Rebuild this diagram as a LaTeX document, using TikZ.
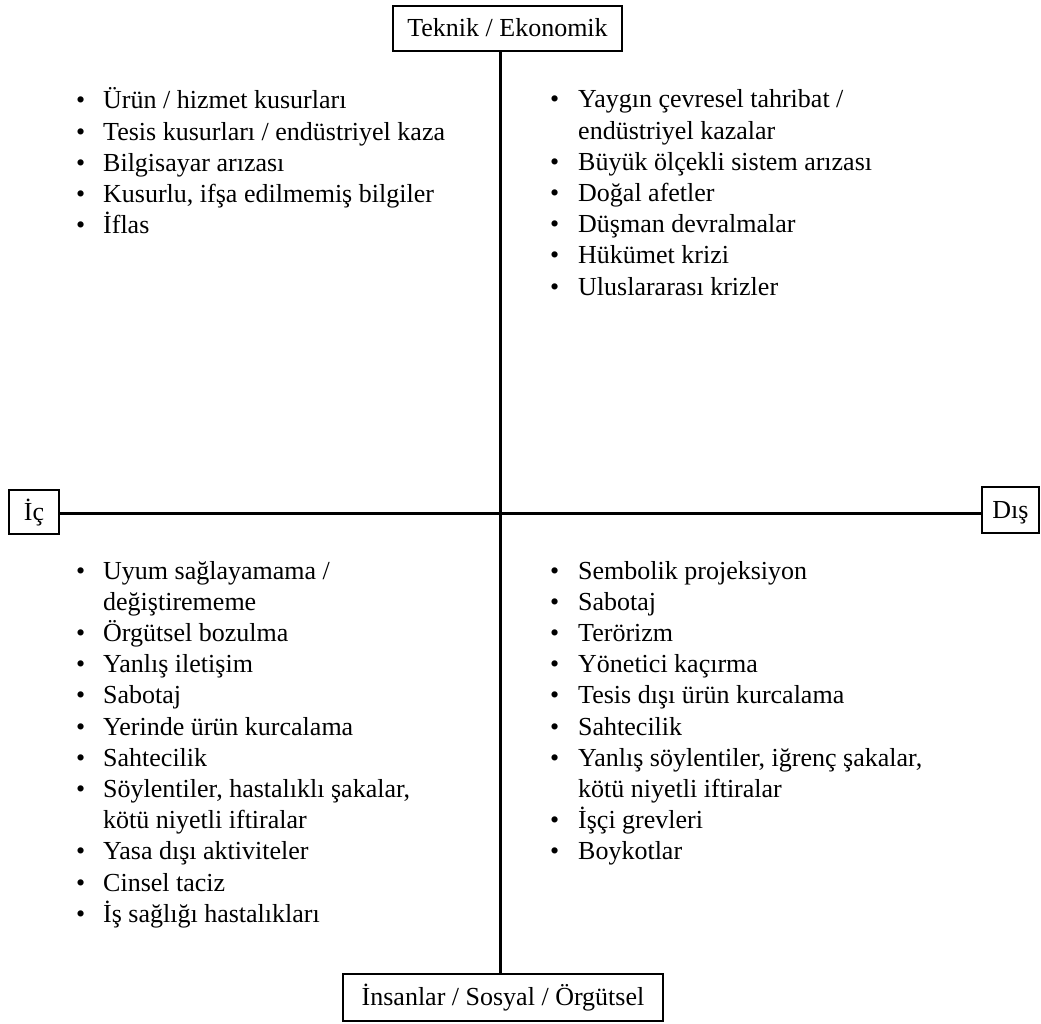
\documentclass[tikz,border=0pt]{standalone}
\usepackage{fontspec}
\setmainfont{Liberation Serif}
\newcommand{\bl}{\textbullet}
\begin{document}
\begin{tikzpicture}[x=1pt,y=-1pt,
  box/.style={draw, line width=2pt, inner sep=0pt, text height=20pt, text depth=4pt, font=\fontsize{26}{31}\selectfont},
  axisline/.style={line width=3pt},
  listnode/.style={anchor=base west, inner sep=0pt, font=\fontsize{26}{31.2}\selectfont}]
\useasboundingbox (0,0) rectangle (1041,1024);
\node[box, minimum width=229pt, minimum height=45pt] (tek) at (507.5,28.5) {Teknik / Ekonomik};
\node[box, minimum width=320pt, minimum height=47pt] (ins) at (503,997.5) {İnsanlar / Sosyal / Örgütsel};
\node[box, minimum width=50pt, minimum height=44pt] (ic) at (34,512) {İç};
\node[box, minimum width=57pt, minimum height=46pt] (dis) at (1010.5,510) {Dış};
\coordinate (c) at (500.5,513.5);
\draw[axisline] (tek.south -| c) -- (ins.north -| c);
\draw[axisline] (ic.east |- c) -- (dis.west |- c);

\node[listnode] (tl) at (76,109) {\begin{tabular}[t]{@{}p{27pt}@{}l@{}}
\bl & Ürün / hizmet kusurları\\
\bl & Tesis kusurları / endüstriyel kaza\\
\bl & Bilgisayar arızası\\
\bl & Kusurlu, ifşa edilmemiş bilgiler\\
\bl & İflas
\end{tabular}};

\node[listnode] (tr) at (550,108) {\begin{tabular}[t]{@{}p{28pt}@{}l@{}}
\bl & Yaygın çevresel tahribat /\\
 & endüstriyel kazalar\\
\bl & Büyük ölçekli sistem arızası\\
\bl & Doğal afetler\\
\bl & Düşman devralmalar\\
\bl & Hükümet krizi\\
\bl & Uluslararası krizler
\end{tabular}};

\node[listnode] (bl) at (76,579) {\begin{tabular}[t]{@{}p{27pt}@{}l@{}}
\bl & Uyum sağlayamama /\\
 & değiştirememe\\
\bl & Örgütsel bozulma\\
\bl & Yanlış iletişim\\
\bl & Sabotaj\\
\bl & Yerinde ürün kurcalama\\
\bl & Sahtecilik\\
\bl & Söylentiler, hastalıklı şakalar,\\
 & kötü niyetli iftiralar\\
\bl & Yasa dışı aktiviteler\\
\bl & Cinsel taciz\\
\bl & İş sağlığı hastalıkları
\end{tabular}};

\node[listnode] (br) at (550,579) {\begin{tabular}[t]{@{}p{28pt}@{}l@{}}
\bl & Sembolik projeksiyon\\
\bl & Sabotaj\\
\bl & Terörizm\\
\bl & Yönetici kaçırma\\
\bl & Tesis dışı ürün kurcalama\\
\bl & Sahtecilik\\
\bl & Yanlış söylentiler, iğrenç şakalar,\\
 & kötü niyetli iftiralar\\
\bl & İşçi grevleri\\
\bl & Boykotlar
\end{tabular}};
\end{tikzpicture}
\end{document}
